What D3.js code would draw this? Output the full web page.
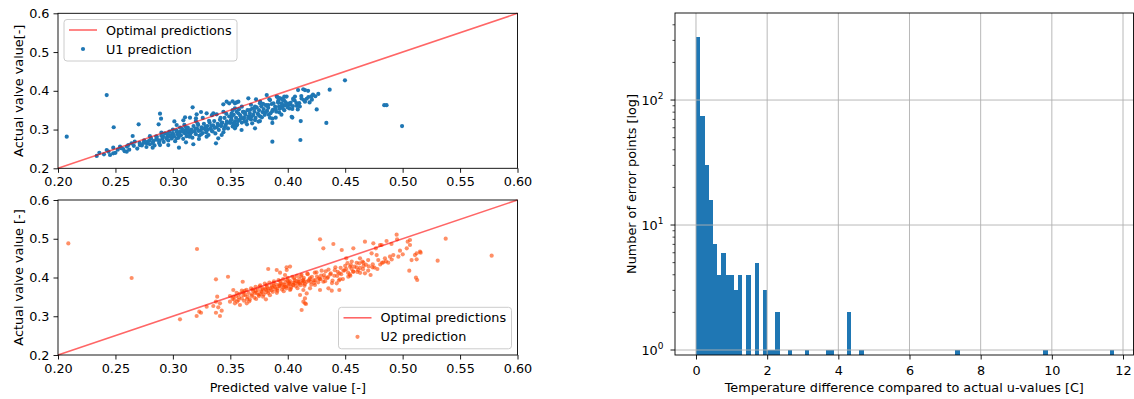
<!DOCTYPE html>
<html><head><meta charset="utf-8">
<script src="https://cdn.jsdelivr.net/npm/d3@7"></script>
<style>
body{margin:0;background:#fff}
svg{display:block}
text{font-family:"DejaVu Sans",sans-serif;fill:#000}
</style>
</head><body>
<svg id="chart" width="1134" height="399"></svg>
<script>
// ---------------- data ----------------
const scatterXTicks = [0.20,0.25,0.30,0.35,0.40,0.45,0.50,0.55,0.60];
const scatterYTicks = [0.2,0.3,0.4,0.5,0.6];
const scatterDomain = [0.2,0.6];
const optimalLine = [[0.2,0.2],[0.6,0.6]];
const u1Label = "U1 prediction";
const u2Label = "U2 prediction";
const optimalLabel = "Optimal predictions";

const u1Points = [
[0.2076,0.2816],[0.2424,0.389],[0.2485,0.306],[0.2337,0.232],
[0.4498,0.427],[0.4365,0.403],[0.4266,0.392],[0.422,0.390],[0.4177,0.400],[0.415,0.402],[0.4135,0.404],[0.409,0.402],[0.4118,0.3866],[0.414,0.376],[0.419,0.370],[0.4252,0.352],[0.4087,0.352],[0.404,0.331],[0.4113,0.322],[0.4336,0.317],[0.411,0.273],[0.484,0.363],[0.486,0.363],[0.4995,0.309],[0.3947,0.379],[0.3967,0.376],[0.399,0.385],[0.4005,0.367],[0.4048,0.380],[0.4063,0.385],
[0.3866,0.2687],[0.3866,0.317],[0.3895,0.3306],[0.3866,0.328],[0.4034,0.333],[0.4025,0.369],
[0.4048,0.3763],[0.4005,0.365],[0.397,0.3626],[0.396,0.376],[0.397,0.385],[0.393,0.381],[0.3918,0.3745],[0.3947,0.3677],[0.3924,0.359],[0.3904,0.385],[0.3817,0.389],[0.3846,0.376],[0.3875,0.3677],[0.383,0.3634],[0.3657,0.3807],[0.3724,0.378],[0.3758,0.3677],[0.3715,0.359],[0.3671,0.3505],[0.3628,0.3435],[0.3585,0.3376],[0.3613,0.329],[0.3555,0.3117],[0.3598,0.2988],[0.3526,0.316],[0.3511,0.333],[0.354,0.3677],[0.357,0.372],[0.3715,0.3032],[0.369,0.316],[0.3758,0.322],
[0.2888,0.341],[0.2897,0.328],[0.2876,0.3135],[0.2702,0.3135],[0.265,0.2834],[0.3013,0.321],[0.3033,0.3117],[0.3062,0.3048],[0.3172,0.3574],[0.3207,0.3393],[0.3201,0.329],[0.3149,0.3307],[0.3106,0.3316],[0.3091,0.3238],[0.3245,0.3453],[0.3294,0.342],[0.3352,0.342],[0.3381,0.3393],[0.3439,0.3652],[0.3468,0.372],[0.349,0.3677],[0.352,0.373],[0.3555,0.370],[0.354,0.3548],[0.3555,0.346],[0.3512,0.342],
[0.2772,0.2645],[0.2824,0.2532],[0.2888,0.260],[0.296,0.260],[0.3053,0.2532],[0.3114,0.267],[0.3178,0.262],[0.3227,0.2756],[0.3294,0.2816],[0.3375,0.2645],[0.3395,0.2774],[0.3425,0.286],[0.354,0.3032],[0.3555,0.3117],
[0.2424,0.2472],[0.2481,0.2532],[0.254,0.2557],[0.2598,0.2428],[0.2612,0.260],[0.2453,0.2343],[0.2481,0.2387],[0.264,0.2645],[0.2668,0.2686],[0.2712,0.260],[0.2568,0.2498],
[0.240,0.236],[0.244,0.243],[0.250,0.240],[0.252,0.248],[0.255,0.252],[0.258,0.244],[0.260,0.256],[0.262,0.248],[0.236,0.240],
[0.266,0.258],[0.269,0.251],[0.271,0.266],[0.273,0.259],[0.275,0.272],[0.277,0.255],[0.278,0.268],[0.280,0.262],[0.281,0.277],[0.283,0.270],[0.284,0.259],[0.286,0.281],[0.287,0.273],[0.288,0.265],[0.290,0.284],[0.291,0.277],[0.292,0.268],[0.293,0.290],[0.295,0.281],[0.296,0.272],[0.297,0.295],[0.298,0.286],[0.299,0.277],[0.300,0.291],[0.301,0.282],[0.302,0.270],[0.303,0.298],[0.304,0.288],[0.305,0.279],[0.306,0.294],[0.307,0.285],[0.308,0.302],[0.309,0.276],[0.310,0.291],[0.311,0.297],[0.312,0.283],[0.313,0.305],[0.314,0.292],[0.315,0.287],[0.316,0.300],[0.317,0.279],[0.318,0.309],[0.319,0.295],[0.320,0.288],[0.321,0.303],[0.322,0.312],[0.323,0.284],[0.324,0.298],[0.325,0.306],[0.326,0.291],[0.327,0.315],[0.328,0.301],[0.329,0.293],[0.330,0.309],[0.331,0.286],[0.332,0.318],[0.333,0.303],[0.334,0.296],[0.335,0.311],[0.336,0.322],[0.337,0.290],[0.338,0.306],[0.339,0.315],[0.340,0.299],[0.341,0.325],[0.342,0.309],[0.343,0.318],[0.344,0.293],[0.345,0.330],[0.346,0.312],[0.347,0.321],[0.348,0.303],[0.349,0.334],[0.350,0.317],[0.351,0.326],[0.352,0.308],[0.353,0.338],[0.354,0.321],[0.355,0.330],[0.356,0.313],[0.357,0.342],[0.358,0.325],[0.359,0.334],[0.360,0.318],[0.361,0.346],[0.362,0.330],[0.363,0.338],[0.364,0.322],[0.365,0.350],[0.366,0.334],[0.367,0.342],[0.368,0.326],[0.369,0.354],[0.370,0.338],[0.371,0.346],[0.372,0.330],[0.373,0.357],[0.374,0.341],[0.375,0.350],[0.376,0.334],[0.377,0.360],[0.378,0.345],[0.379,0.353],[0.380,0.338],[0.381,0.363],[0.382,0.348],[0.383,0.356],[0.385,0.342],[0.386,0.366],[0.387,0.351],[0.389,0.359],[0.390,0.346],[0.392,0.369],[0.393,0.354],[0.395,0.362],[0.397,0.350],[0.398,0.371],[0.400,0.357],[0.402,0.364],[0.404,0.353],[0.406,0.375],[0.408,0.361],[0.410,0.368],[0.412,0.380],[0.415,0.372],[0.418,0.384],[0.421,0.377],[0.424,0.386],
[0.300,0.300],[0.310,0.312],[0.320,0.322],[0.326,0.330],[0.334,0.337],[0.344,0.346],[0.352,0.350],[0.360,0.359],[0.368,0.364],[0.376,0.372],[0.384,0.378],[0.391,0.384],[0.280,0.283],[0.290,0.292],
[0.2715,0.2605],[0.2745,0.2655],[0.2795,0.2715],[0.2825,0.2655],[0.2855,0.2745],[0.2885,0.2715],[0.2915,0.2815],[0.2945,0.2765],[0.2975,0.2825],[0.3005,0.2865],[0.3035,0.2935],[0.3055,0.2875],[0.3085,0.2955],[0.3115,0.2895],[0.3135,0.2985],[0.3165,0.2935],[0.3195,0.3015],[0.3225,0.2965],[0.3255,0.3025],[0.3285,0.3075],[0.3305,0.2995],[0.3335,0.3105],[0.3365,0.3045],[0.3395,0.3105],[0.3425,0.3165],[0.3455,0.3085],[0.3475,0.3175],[0.3505,0.3235],[0.3535,0.3145],[0.3565,0.3215],[0.3595,0.3285],[0.3625,0.3205],[0.3655,0.3295],[0.3685,0.3335],[0.3715,0.3245],[0.3745,0.3375],[0.3775,0.3315],[0.3805,0.3445],[0.3835,0.3385],[0.3865,0.3475],[0.3895,0.3525],[0.3925,0.3445],[0.3955,0.3555],[0.3985,0.3625],[0.4015,0.3545],[0.4045,0.3605],[0.4075,0.3685],[0.4105,0.3595],[0.4165,0.3795],[0.4205,0.3855],[0.3035,0.2775],[0.3145,0.2815],[0.3245,0.2875],[0.3345,0.2955],[0.3445,0.3015],[0.3545,0.3075],[0.3645,0.3135],[0.3745,0.3205],[0.3845,0.3305],[0.3945,0.3385],[0.3115,0.3055],[0.3215,0.3155],[0.3315,0.3225],[0.3415,0.3305],[0.3515,0.3385],[0.3615,0.3455],[0.3715,0.3555],[0.3815,0.3615],[0.3915,0.3705],[0.2955,0.2895],[0.2855,0.2825],[0.3465,0.3405],[0.3575,0.3525],[0.3785,0.3665]
];

const u2Points = [
[0.209,0.488],[0.2641,0.3987],[0.321,0.4735],[0.3062,0.292],[0.3207,0.3006],[0.323,0.3117],[0.3245,0.309],[0.3294,0.3247],[0.3352,0.3265],[0.3395,0.323],[0.341,0.3334],[0.3375,0.3376],[0.3425,0.3144],[0.341,0.3006],[0.3375,0.309],[0.3386,0.3505],[0.3375,0.3953],[0.348,0.402],[0.3526,0.3677],[0.3497,0.3376],[0.354,0.3334],[0.357,0.342],[0.3526,0.3505],[0.3497,0.3523],[0.3584,0.329],[0.3643,0.3334],[0.36,0.366],[0.3608,0.389],[0.381,0.3437],[0.383,0.422],[0.3904,0.4194],[0.399,0.4263],[0.3933,0.4124],[0.3976,0.4065],
[0.5375,0.5002],[0.5775,0.4563],[0.5305,0.4434],[0.5151,0.4666],[0.5157,0.464],[0.5122,0.4623],[0.5107,0.458],[0.5122,0.447],[0.5078,0.445],[0.5058,0.4176],[0.5116,0.3995],[0.5127,0.3935],[0.5064,0.4968],[0.5044,0.4924],[0.5064,0.4839],[0.5036,0.4753],[0.4977,0.4692],[0.4963,0.4537],[0.5001,0.4598],[0.4948,0.5105],[0.489,0.4537],[0.4919,0.458],[0.4875,0.4382],[0.4832,0.4391],[0.4846,0.4494],[0.4788,0.445],[0.4774,0.458],[0.473,0.4623],[0.4767,0.4753],[0.4817,0.4839],[0.486,0.4942],[0.4903,0.4864],[0.4952,0.4985],[0.4738,0.4263],[0.4721,0.4065],[0.4672,0.4108],[0.4658,0.4383],[0.4629,0.4496],[0.4623,0.4367],[0.4557,0.441],[0.4542,0.4281],[0.4614,0.4194],[0.4571,0.4152],[0.4484,0.4178],[0.4527,0.4022],[0.4455,0.3953],[0.4426,0.385],[0.4449,0.3677],[0.4383,0.366],[0.4354,0.3721],[0.4281,0.3677],[0.4237,0.3806],[0.4194,0.372],[0.4165,0.359],[0.415,0.346],[0.4159,0.3316],[0.4121,0.3161],[0.4136,0.3376],[0.4803,0.4839],[0.4745,0.4882],[0.4672,0.4924],[0.4571,0.4753],[0.447,0.471],[0.4397,0.4864],[0.431,0.4753],[0.4281,0.4985],[0.4509,0.4496],[0.3991,0.4194],[0.402,0.4281],[0.4005,0.3892],[0.402,0.3677],[0.4136,0.3677],[0.415,0.3334],[0.4107,0.3548],
[0.446,0.425],[0.450,0.430],[0.455,0.432],[0.460,0.438],[0.465,0.441],[0.470,0.445],[0.452,0.437],[0.458,0.428],[0.463,0.425],[0.468,0.433],
[0.352,0.345],[0.355,0.352],[0.356,0.338],[0.358,0.358],[0.360,0.346],[0.361,0.362],[0.362,0.340],[0.363,0.355],[0.364,0.368],[0.365,0.350],[0.366,0.360],[0.367,0.343],[0.368,0.372],[0.369,0.356],[0.370,0.364],[0.371,0.348],[0.372,0.376],[0.373,0.360],[0.374,0.368],[0.375,0.352],[0.376,0.380],[0.377,0.364],[0.378,0.372],[0.379,0.356],[0.380,0.384],[0.381,0.368],[0.382,0.376],[0.383,0.360],[0.384,0.387],[0.385,0.372],[0.386,0.379],[0.387,0.363],[0.388,0.390],[0.389,0.375],[0.390,0.382],[0.391,0.366],[0.392,0.393],[0.393,0.378],[0.394,0.385],[0.395,0.369],[0.396,0.396],[0.397,0.381],[0.398,0.388],[0.399,0.372],[0.400,0.399],[0.401,0.384],[0.402,0.391],[0.403,0.375],[0.404,0.402],[0.405,0.387],[0.406,0.394],[0.407,0.378],[0.408,0.404],[0.409,0.389],[0.410,0.396],[0.411,0.380],[0.412,0.407],[0.413,0.392],[0.414,0.399],[0.415,0.383],[0.417,0.410],[0.419,0.395],[0.421,0.402],[0.423,0.386],[0.425,0.413],[0.427,0.398],[0.429,0.405],[0.431,0.389],[0.433,0.416],[0.435,0.401],[0.437,0.408],[0.439,0.392],[0.441,0.419],[0.443,0.404],[0.445,0.411],[0.448,0.396],[0.451,0.422],[0.454,0.408],[0.457,0.415],[0.460,0.426],[0.463,0.412],[0.466,0.430],[0.470,0.418],[0.474,0.434],[0.478,0.422],[0.482,0.438],
[0.372,0.366],[0.378,0.369],[0.383,0.371],[0.388,0.378],[0.393,0.381],[0.397,0.376],[0.402,0.383],[0.406,0.386],[0.410,0.388],[0.414,0.390],[0.418,0.392],[0.376,0.357],[0.381,0.362],[0.386,0.367],[0.391,0.371],[0.396,0.374],[0.400,0.378],[0.405,0.381],[0.409,0.384],[0.413,0.386],[0.420,0.389],[0.424,0.393],[0.428,0.396],[0.432,0.400],
[0.3535,0.3425],[0.3575,0.3485],[0.3615,0.3545],[0.3645,0.3445],[0.3685,0.3525],[0.3715,0.3605],[0.3745,0.3555],[0.3775,0.3625],[0.3805,0.3705],[0.3835,0.3655],[0.3865,0.3745],[0.3895,0.3695],[0.3925,0.3775],[0.3955,0.3825],[0.3985,0.3765],[0.4015,0.3865],[0.4045,0.3805],[0.4075,0.3905],[0.4105,0.3845],[0.4135,0.3945],[0.4165,0.3885],[0.4195,0.3985],[0.4225,0.3925],[0.4255,0.4025],[0.4285,0.3955],[0.4315,0.4065],[0.4345,0.3985],[0.4375,0.4105],[0.4405,0.4045],[0.4435,0.4145],[0.4465,0.4085],[0.4495,0.4185],[0.4525,0.4125],[0.4555,0.4225],[0.3665,0.3385],[0.3725,0.3445],[0.3785,0.3505],[0.3845,0.3545],[0.3905,0.3605],[0.3965,0.3645],[0.4025,0.3705],[0.4085,0.3725],[0.4145,0.3785],[0.4205,0.3815],[0.4265,0.3875],[0.4325,0.3905],[0.3695,0.3695],[0.3755,0.3765],[0.3815,0.3805],[0.3875,0.3855],[0.3935,0.3905],[0.3995,0.3935],[0.4055,0.3985],[0.4115,0.4035],[0.4175,0.4085],[0.4235,0.4125],[0.4295,0.4175],[0.4355,0.4205],[0.4415,0.4265],[0.3555,0.3605],[0.3625,0.3655],[0.4385,0.3855],[0.4445,0.3925],[0.4545,0.4045],[0.4605,0.4145],[0.4655,0.4215],[0.4705,0.4285],[0.4755,0.4255],[0.4805,0.4335],[0.4855,0.4415],[0.4905,0.4465]
];

const histRange = [0, 11.75];
const histCounts = [
318,74,30,16,7,4,6,4,4,3, 4,0,4,0,5,0,3,1,1,2,
0,0,1,0,0,0,1,0,0,0, 0,1,1,0,0,0,2,0,0,1,
0,0,0,0,0,0,0,0,0,0, 0,0,0,0,0,0,0,0,0,0,
0,0,1,0,0,0,0,0,0,0, 0,0,0,0,0,0,0,0,0,0,
0,0,0,1,0,0,0,0,0,0, 0,0,0,0,0,0,0,0,0,1
];
const histXTicks = [0,2,4,6,8,10,12];
const histYTicks = [1,10,100];
const histXLabel = "Temperature difference compared to actual u-values [C]";
const histYLabel = "Number of error points [log]";
const topYLabel = "Actual valve value[-]";
const bottomYLabel = "Actual valve value [-]";
const bottomXLabel = "Predicted valve value [-]";

// ---------------- layout ----------------
const FS = 12.8;
const svg = d3.select("#chart");
const blue = "#1f77b4", orange = "#ff4500";

function scatterPanel(top, bottom, points, color, opacity, yLabel, xLabel, legendPos, legendName) {
  const L = 58, R = 517.5;
  const x = d3.scaleLinear().domain(scatterDomain).range([L, R]);
  const y = d3.scaleLinear().domain(scatterDomain).range([bottom, top]);
  const g = svg.append("g");
  g.append("g").selectAll("circle").data(points).join("circle")
    .attr("cx", d => x(d[0])).attr("cy", d => y(d[1])).attr("r", 2.1)
    .attr("fill", color).attr("fill-opacity", opacity);
  g.append("path").datum(optimalLine)
    .attr("d", d3.line().x(d => x(d[0])).y(d => y(d[1])))
    .attr("stroke", "red").attr("stroke-opacity", 0.6).attr("stroke-width", 1.6).attr("fill", "none");
  const ax = g.append("g").attr("transform", `translate(0,${bottom})`)
    .call(d3.axisBottom(x).tickValues(scatterXTicks).tickFormat(d3.format(".2f")).tickSize(4.5).tickPadding(4));
  const ay = g.append("g").attr("transform", `translate(${L},0)`)
    .call(d3.axisLeft(y).tickValues(scatterYTicks).tickFormat(d3.format(".1f")).tickSize(4.5).tickPadding(4));
  [ax, ay].forEach(a => {
    a.select(".domain").remove();
    a.selectAll("text").attr("font-size", FS).attr("font-family", "DejaVu Sans").attr("fill", "#000");
    a.selectAll("line").attr("stroke", "#000").attr("stroke-width", 0.9);
  });
  g.append("rect").attr("x", L).attr("y", top).attr("width", R - L).attr("height", bottom - top)
    .attr("fill", "none").attr("stroke", "#000").attr("stroke-width", 0.9);
  g.append("text").attr("transform", `translate(22.5,${(top + bottom) / 2}) rotate(-90)`)
    .attr("text-anchor", "middle").attr("font-size", FS).text(yLabel);
  if (xLabel) {
    g.append("text").attr("x", (L + R) / 2).attr("y", 392).attr("text-anchor", "middle")
      .attr("font-size", FS).text(xLabel);
  }
  const lg = g.append("g").attr("transform", `translate(${legendPos[0]},${legendPos[1]})`);
  lg.append("rect").attr("x", 0).attr("y", 0).attr("width", 173).attr("height", 41.5).attr("rx", 3)
    .attr("fill", "#fff").attr("fill-opacity", 0.8).attr("stroke", "#cccccc").attr("stroke-width", 1);
  lg.append("line").attr("x1", 5).attr("x2", 33).attr("y1", 10.5).attr("y2", 10.5)
    .attr("stroke", "red").attr("stroke-opacity", 0.6).attr("stroke-width", 1.6);
  lg.append("text").attr("x", 42).attr("y", 15).attr("font-size", FS).text(optimalLabel);
  lg.append("circle").attr("cx", 19).attr("cy", 29.5).attr("r", 2.1).attr("fill", color).attr("fill-opacity", opacity);
  lg.append("text").attr("x", 42).attr("y", 34).attr("font-size", FS).text(legendName);
}

scatterPanel(13.3, 168.3, u1Points, blue, 1, topYLabel, null, [64, 19.5], u1Label);
scatterPanel(200, 355, u2Points, orange, 0.6, bottomYLabel, bottomXLabel, [338.5, 307.3], u2Label);

// ---------------- histogram ----------------
(function () {
  const L = 675, R = 1133.5, T = 13, B = 355;
  const x = d3.scaleLinear().domain([-0.59, 12.295]).range([L, R]);
  const y = d3.scaleLog().domain([0.912, 497]).range([B, T]);
  const nb = histCounts.length;
  const w = (histRange[1] - histRange[0]) / nb;
  const bins = histCounts.map((c, i) => ({ x0: histRange[0] + i * w, x1: histRange[0] + (i + 1) * w, c }));
  const g = svg.append("g");
  g.append("g").attr("shape-rendering", "crispEdges").selectAll("rect").data(bins.filter(b => b.c > 0)).join("rect")
    .attr("x", d => x(d.x0)).attr("width", d => x(d.x1) - x(d.x0) + 0.3)
    .attr("y", d => y(d.c)).attr("height", d => B - y(d.c))
    .attr("fill", blue);
  const grid = g.append("g").attr("stroke", "#b0b0b0").attr("stroke-width", 0.9);
  histXTicks.forEach(t => grid.append("line").attr("x1", x(t)).attr("x2", x(t)).attr("y1", T).attr("y2", B));
  histYTicks.forEach(t => grid.append("line").attr("x1", L).attr("x2", R).attr("y1", y(t)).attr("y2", y(t)));
  const ax = g.append("g").attr("transform", `translate(0,${B})`)
    .call(d3.axisBottom(x).tickValues(histXTicks).tickFormat(d3.format("d")).tickSize(4.5).tickPadding(6));
  ax.select(".domain").remove();
  ax.selectAll("text").attr("font-size", FS).attr("font-family", "DejaVu Sans").attr("fill", "#000");
  ax.selectAll("line").attr("stroke", "#000").attr("stroke-width", 0.9);
  const minor = [];
  [0.1, 1, 10, 100].forEach(dec => { for (let k = 2; k <= 9; k++) { const v = dec * k; if (v >= 0.912 && v <= 497) minor.push(v); } });
  const ay = g.append("g").attr("transform", `translate(${L},0)`);
  ay.selectAll("line.minor").data(minor).join("line").attr("class", "minor")
    .attr("x1", -2.5).attr("x2", 0).attr("y1", d => y(d)).attr("y2", d => y(d)).attr("stroke", "#000").attr("stroke-width", 0.7);
  ay.selectAll("line.major").data(histYTicks).join("line").attr("class", "major")
    .attr("x1", -4.5).attr("x2", 0).attr("y1", d => y(d)).attr("y2", d => y(d)).attr("stroke", "#000").attr("stroke-width", 0.9);
  const lab = ay.selectAll("text").data(histYTicks).join("text")
    .attr("x", -11.5).attr("y", d => y(d) + 4.5).attr("text-anchor", "end").attr("font-size", FS);
  lab.append("tspan").text("10");
  lab.append("tspan").attr("dy", -5.5).attr("font-size", 9).text(d => String(Math.round(Math.log10(d))));
  g.append("rect").attr("x", L).attr("y", T).attr("width", R - L).attr("height", B - T)
    .attr("fill", "none").attr("stroke", "#000").attr("stroke-width", 0.9);
  g.append("text").attr("x", (L + R) / 2).attr("y", 392).attr("text-anchor", "middle").attr("font-size", FS).text(histXLabel);
  g.append("text").attr("transform", `translate(636,${(T + B) / 2}) rotate(-90)`)
    .attr("text-anchor", "middle").attr("font-size", FS).text(histYLabel);
})();
</script>
</body></html>
